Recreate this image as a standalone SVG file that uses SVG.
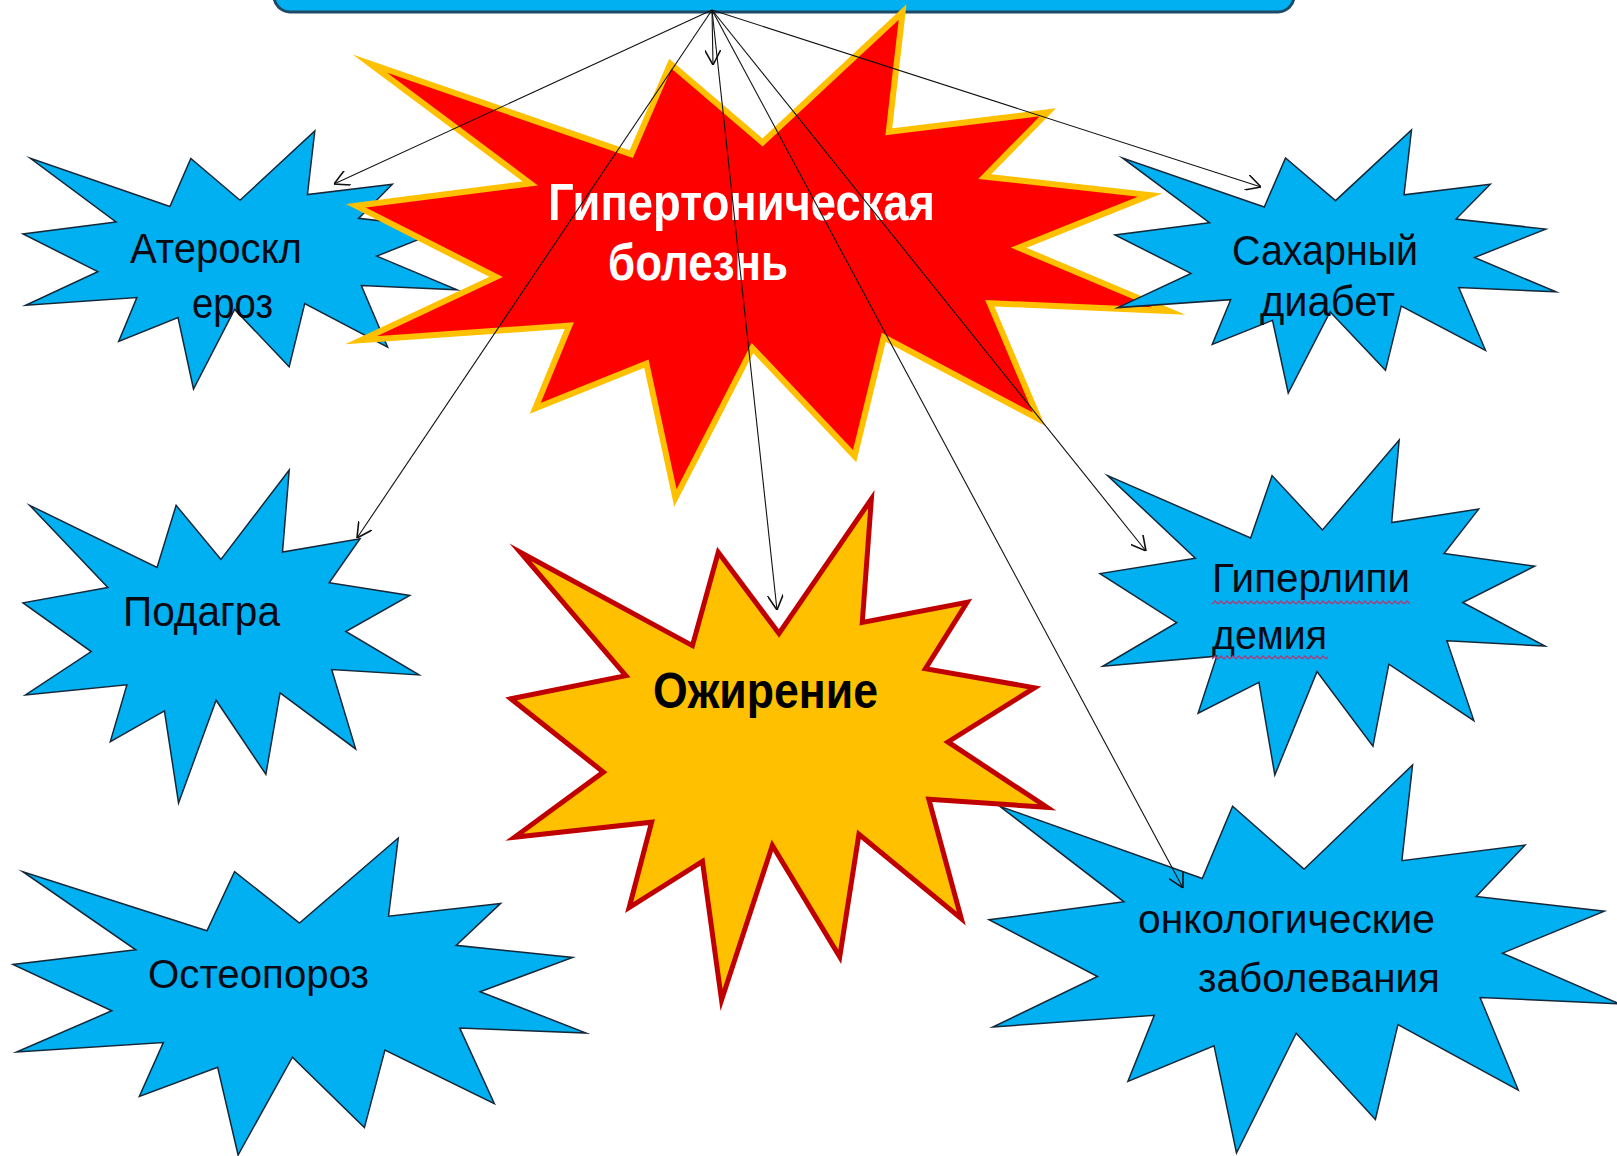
<svg xmlns="http://www.w3.org/2000/svg" xmlns:xlink="http://www.w3.org/1999/xlink" width="1617" height="1156" viewBox="0 0 1617 1156">
<style>
.seal-blue{fill:#00B0F0;stroke:#15283a;stroke-width:1.5}
.seal-red{fill:#FF0000;stroke:#FFC000;stroke-width:6}
.seal-orange{fill:#FFC000;stroke:#C00000;stroke-width:5}
.t{font-family:"Liberation Sans",Arial,sans-serif;fill:#0a0a14}
.tb{font-family:"Liberation Sans",Arial,sans-serif;font-weight:bold}
.conn{stroke:#111;stroke-width:1.1;fill:none;marker-end:url(#arr)}
</style>
<defs>
<path id="seal" vector-effect="non-scaling-stroke" stroke-linejoin="miter" stroke-miterlimit="10" d="M10800,5800 L8352,2295 L7312,6320 L370,2295 L4627,7617 L0,8615 L3722,11775 L135,14587 L5667,13937 L4762,17617 L7715,15627 L8485,21600 L10532,14935 L13247,19737 L14020,14457 L18145,18095 L16837,12942 L21600,13290 L17607,10475 L21097,8137 L16702,7315 L18380,4457 L14155,5325 L14522,0 Z"/>
<marker id="arr" viewBox="0 0 15 16" refX="15" refY="8" markerWidth="15" markerHeight="16" markerUnits="userSpaceOnUse" orient="auto">
<path d="M0,0 L15,8 L0,16" fill="none" stroke="#111" stroke-width="1.6"/>
</marker>
<pattern id="squig" x="0" y="0" width="6" height="5" patternUnits="userSpaceOnUse">
<path d="M0,4 L3,1 L6,4" fill="none" stroke="#b03a78" stroke-width="1.4"/>
</pattern>
</defs>
<rect width="1617" height="1156" fill="#ffffff"/>

<g id="top-box">
<rect x="274" y="-40" width="1020" height="52" rx="16" fill="#00B0F0" stroke="#1f4a66" stroke-width="3"/>
</g>

<g id="node-ateroskleroz">
<use xlink:href="#seal" class="seal-blue" transform="translate(23,131) scale(0.020093,0.011944)"/>
<text class="t" font-size="42" x="130" y="263" textLength="172" lengthAdjust="spacingAndGlyphs">Атероскл</text>
<text class="t" font-size="42" x="192" y="318" textLength="81" lengthAdjust="spacingAndGlyphs">ероз</text>
</g>

<g id="node-gipertonicheskaya">
<use xlink:href="#seal" class="seal-red" transform="translate(356,12) scale(0.037639,0.0225)"/>
<text class="tb" font-size="52" fill="#ffffff" x="548" y="220" textLength="387" lengthAdjust="spacingAndGlyphs">Гипертоническая</text>
<text class="tb" font-size="52" fill="#ffffff" x="608" y="280" textLength="180" lengthAdjust="spacingAndGlyphs">болезнь</text>
</g>

<g id="node-saharnyi-diabet">
<use xlink:href="#seal" class="seal-blue" transform="translate(1115,130) scale(0.020417,0.012176)"/>
<text class="t" font-size="42" x="1232" y="265" textLength="186" lengthAdjust="spacingAndGlyphs">Сахарный</text>
<text class="t" font-size="42" x="1260" y="316" textLength="135" lengthAdjust="spacingAndGlyphs">диабет</text>
</g>

<g id="node-podagra">
<use xlink:href="#seal" class="seal-blue" transform="translate(23,470) scale(0.018333,0.015417)"/>
<text class="t" font-size="42" x="123" y="626" textLength="157" lengthAdjust="spacingAndGlyphs">Подагра</text>
</g>

<g id="node-osteoporoz">
<use xlink:href="#seal" class="seal-blue" transform="translate(13,838) scale(0.026528,0.014676)"/>
<text class="t" font-size="41" x="148" y="988" textLength="221" lengthAdjust="spacingAndGlyphs">Остеопороз</text>
</g>

<g id="node-giperlipidemiya">
<use xlink:href="#seal" class="seal-blue" transform="translate(1100,440) scale(0.020602,0.015509)"/>
<text class="t" font-size="40" x="1212" y="592" textLength="198" lengthAdjust="spacingAndGlyphs">Гиперлипи</text>
<text class="t" font-size="40" x="1212" y="649" textLength="115" lengthAdjust="spacingAndGlyphs">демия</text>
<rect x="1212" y="600" width="198" height="5" fill="url(#squig)"/>
<rect x="1212" y="655" width="116" height="5" fill="url(#squig)"/>
</g>

<g id="node-onkologicheskie">
<use xlink:href="#seal" class="seal-blue" transform="translate(989,765) scale(0.029167,0.017963)"/>
<text class="t" font-size="41" x="1138" y="933" textLength="297" lengthAdjust="spacingAndGlyphs">онкологические</text>
<text class="t" font-size="41" x="1198" y="992" textLength="242" lengthAdjust="spacingAndGlyphs">заболевания</text>
</g>

<g id="node-ozhirenie">
<use xlink:href="#seal" class="seal-orange" transform="translate(511,499) scale(0.024815,0.023194)"/>
<text class="tb" font-size="50" fill="#000000" x="653" y="708" textLength="225" lengthAdjust="spacingAndGlyphs">Ожирение</text>
</g>

<g id="connectors">
<line class="conn" x1="712" y1="10" x2="334" y2="184"/>
<line class="conn" x1="712" y1="10" x2="713" y2="65"/>
<line class="conn" x1="712" y1="10" x2="357" y2="538"/>
<line class="conn" x1="712" y1="10" x2="777" y2="610"/>
<line class="conn" x1="712" y1="10" x2="1146" y2="551"/>
<line class="conn" x1="712" y1="10" x2="1183" y2="888"/>
<line class="conn" x1="712" y1="10" x2="1261" y2="187"/>
</g>
</svg>
